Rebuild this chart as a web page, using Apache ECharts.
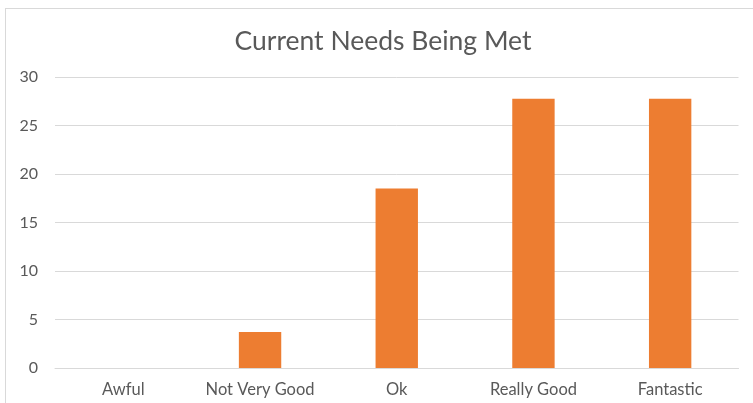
<!DOCTYPE html>
<html>
<head>
<meta charset="utf-8">
<script src="https://cdn.jsdelivr.net/npm/echarts@6/dist/echarts.min.js"></script>
<style>
html,body{margin:0;padding:0;background:#fff;}
#chart{width:753px;height:403px;}
</style>
</head>
<body>
<div id="chart"></div>
<script>
const categories = ["Awful", "Not Very Good", "Ok", "Really Good", "Fantastic"];
const values = [0, 3.7, 18.5, 27.75, 27.75];
const titleText = "Current Needs Being Met";

const chart = echarts.init(document.getElementById('chart'));
chart.setOption({
  backgroundColor: '#ffffff',
  animation: false,
  title: {
    text: titleText,
    left: 378,
    textAlign: 'center',
    top: 23,
    textStyle: { fontFamily: 'Lato', fontSize: 26.5, fontWeight: 'normal', color: '#595959' }
  },
  graphic: [
    { type: 'line', shape: { x1: 5, y1: 8.5, x2: 753, y2: 8.5 }, style: { stroke: '#d9d9d9', lineWidth: 1 }, silent: true },
    { type: 'line', shape: { x1: 5.5, y1: 8, x2: 5.5, y2: 403 }, style: { stroke: '#d9d9d9', lineWidth: 1 }, silent: true }
  ],
  grid: { left: 55, right: 14.5, top: 77, bottom: 35 },
  xAxis: {
    type: 'category',
    data: categories,
    axisLine: { lineStyle: { color: '#d9d9d9', width: 1 } },
    axisTick: { show: false },
    axisLabel: { interval: 0, hideOverlap: false, color: '#595959', fontFamily: 'Lato', fontSize: 16.5, margin: 13 }
  },
  yAxis: {
    type: 'value',
    min: 0, max: 30, interval: 5,
    axisLine: { show: false },
    axisTick: { show: false },
    splitLine: { lineStyle: { color: '#d9d9d9', width: 1 } },
    axisLabel: { color: '#595959', fontFamily: 'Lato', fontSize: 16, margin: 17 }
  },
  series: [{
    type: 'bar',
    data: values,
    barWidth: '31%',
    itemStyle: { color: '#ED7D31' }
  }]
});
</script>
</body>
</html>
